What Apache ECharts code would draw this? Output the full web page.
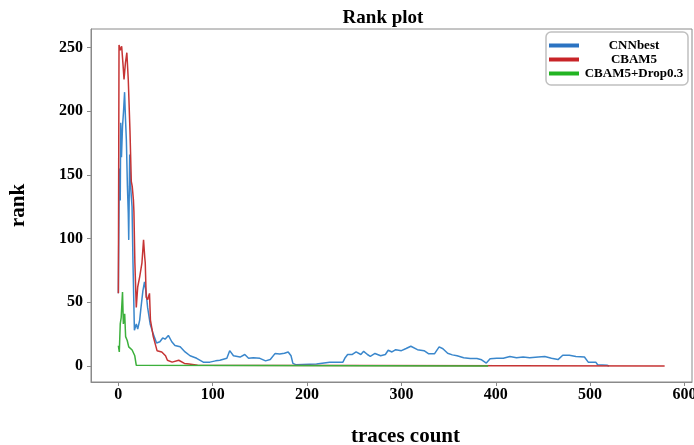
<!DOCTYPE html>
<html>
<head>
<meta charset="utf-8">
<script src="https://cdn.jsdelivr.net/npm/echarts@6/dist/echarts.min.js"></script>
<style>html,body{margin:0;padding:0;background:#fff;}#c{width:694px;height:445px;}</style>
</head>
<body>
<div id="c"></div>
<script>
var seriesNames = ['CNNbest', 'CBAM5', 'CBAM5+Drop0.3'];
var xTicks = [0, 100, 200, 300, 400, 500, 600];
var yTicks = [0, 50, 100, 150, 200, 250];

var cnnbest = [[0,57],[1,155],[2,130],[2.5,191],[3.3,164],[4.4,188],[5.5,200],[6.6,215],[7.5,195],[8.5,177],[9.6,141],[10.5,120],[11,99],[12,166],[13,141],[14.5,125],[15.5,81],[17,28],[19,33],[20.5,29],[22.6,36],[24,46],[26,59],[27.7,66],[29.5,57],[31,46],[33.7,33],[37,25],[40.5,18],[44,19],[47,22],[49.5,21],[53,24],[56.6,19],[60,16],[65.5,15],[70.7,11],[76,8],[83,6],[90,3],[97,3],[103,4],[107.6,4.5],[115,6],[118,12],[122,8],[129,7],[134,9],[138,6],[143,6.5],[150,6],[156,4],[161,5],[166,9.7],[171,9.3],[176,10],[180,11],[183,8],[185,2],[188,1],[210,1.5],[224,3],[238,3],[240,6],[243,9],[248,9],[252,11],[257,9],[260,11.5],[264,9],[267,7.6],[272,9.8],[278,8],[283,9],[286,12.3],[290,11],[294,12.8],[300,12],[305,13.7],[310,15.5],[317,12.8],[324,12],[329,9.5],[335,9.5],[340,15],[344,13.5],[349,10],[354,8.7],[359,8],[366,6.5],[373,5.8],[380,5.8],[385,4.8],[390,2.3],[394,5.6],[401,6],[408,6],[415,7.4],[422,6.5],[429,7],[436,6.5],[445,7],[452,7.4],[459,6],[466,5],[471,8.4],[478,8.4],[485,7.5],[494,7],[498,3],[506,3],[508,1],[518,0.5],[520,0]];

var cbam5 = [[0,57],[0.7,252],[2,248],[3.5,251],[5,236],[6,225],[7.5,238],[9,246],[10.5,225],[12.3,185],[13.7,145],[14.7,141],[16,130],[16.5,121],[17.5,81],[19,46],[20.5,62],[22.6,70],[25,81],[26.7,99],[28,85],[28.5,81],[29.5,54],[31,52],[33,57],[34,36],[37,23],[41,12],[46,11],[50,8],[52,4.5],[57,3],[64,4.5],[70,2],[75,1.5],[84,0.5],[86,0],[579,0]];

var cbam5drop = [[0,16],[1,11],[2,33],[3,38],[4.4,58],[5.3,33],[6.7,41],[7.7,23],[9.4,20],[11,15],[12.8,16],[14.6,12.5],[16.3,12.5],[17.4,8],[19,0.5],[20,0],[392,0]];

var colors = ['#3a87cc', '#c63434', '#3cb03c'];
var legendColors = ['#2b73c2', '#c82428', '#22b422'];
var font = '"Liberation Serif", "Times New Roman", serif';

var chart = echarts.init(document.getElementById('c'));
var dataSets = [cnnbest, cbam5, cbam5drop];
chart.setOption({
  animation: false,
  backgroundColor: '#fff',
  title: {
    text: 'Rank plot',
    left: 378, top: 4, textAlign: 'center',
    textStyle: {fontFamily: font, fontWeight: 'bold', fontSize: 19, color: '#000'}
  },
  grid: {left: 91, right: 2, top: 29, bottom: 63, show: true, borderColor: '#8a8a8a', borderWidth: 1, backgroundColor: 'transparent', containLabel: false, outerBoundsMode: 'none'},
  legend: {
    orient: 'vertical',
    left: 546, top: 32,
    padding: [7, 4, 5, 3],
    itemGap: 1,
    itemWidth: 30, itemHeight: 4,
    icon: 'rect',
    borderColor: '#c0c0c0', borderWidth: 1.5, borderRadius: 5,
    data: seriesNames.map(function(n, i){ return {name: n, itemStyle: {color: legendColors[i]}}; }),
    formatter: function(n){ return '{a|' + n + '}'; },
    textStyle: {
      fontFamily: font, fontWeight: 'bold', fontSize: 13, color: '#000',
      rich: {a: {width: 100, align: 'center', fontFamily: font, fontWeight: 'bold', fontSize: 13, lineHeight: 14, color: '#000'}}
    }
  },
  xAxis: {
    type: 'value', min: -29, max: 608,
    name: 'traces count', nameLocation: 'middle', nameGap: 44,
    nameTextStyle: {fontFamily: font, fontWeight: 'bold', fontSize: 21, color: '#000', padding: [0, 0, 0, 28]},
    splitLine: {show: false},
    axisLine: {show: true, onZero: false, lineStyle: {color: '#8a8a8a'}},
    axisTick: {show: true, length: 4, lineStyle: {color: '#8a8a8a'}, customValues: xTicks},
    axisLabel: {fontFamily: font, fontWeight: 'bold', fontSize: 16, color: '#000', margin: 5, customValues: xTicks}
  },
  yAxis: {
    type: 'value', min: -12.6, max: 264.6,
    name: 'rank', nameLocation: 'middle', nameGap: 62, nameRotate: 90,
    nameTextStyle: {fontFamily: font, fontWeight: 'bold', fontSize: 21, color: '#000'},
    splitLine: {show: false},
    axisLine: {show: true, onZero: false, lineStyle: {color: '#8a8a8a'}},
    axisTick: {show: true, length: 4, lineStyle: {color: '#8a8a8a'}, customValues: yTicks},
    axisLabel: {fontFamily: font, fontWeight: 'bold', fontSize: 16, color: '#000', margin: 8, customValues: yTicks}
  },
  series: dataSets.map(function(d, i){
    return {
      name: seriesNames[i], type: 'line', data: d,
      symbol: 'none', showSymbol: false,
      lineStyle: {color: colors[i], width: 1.5},
      itemStyle: {color: colors[i]},
      z: 2 + i
    };
  })
});
</script>
</body>
</html>
